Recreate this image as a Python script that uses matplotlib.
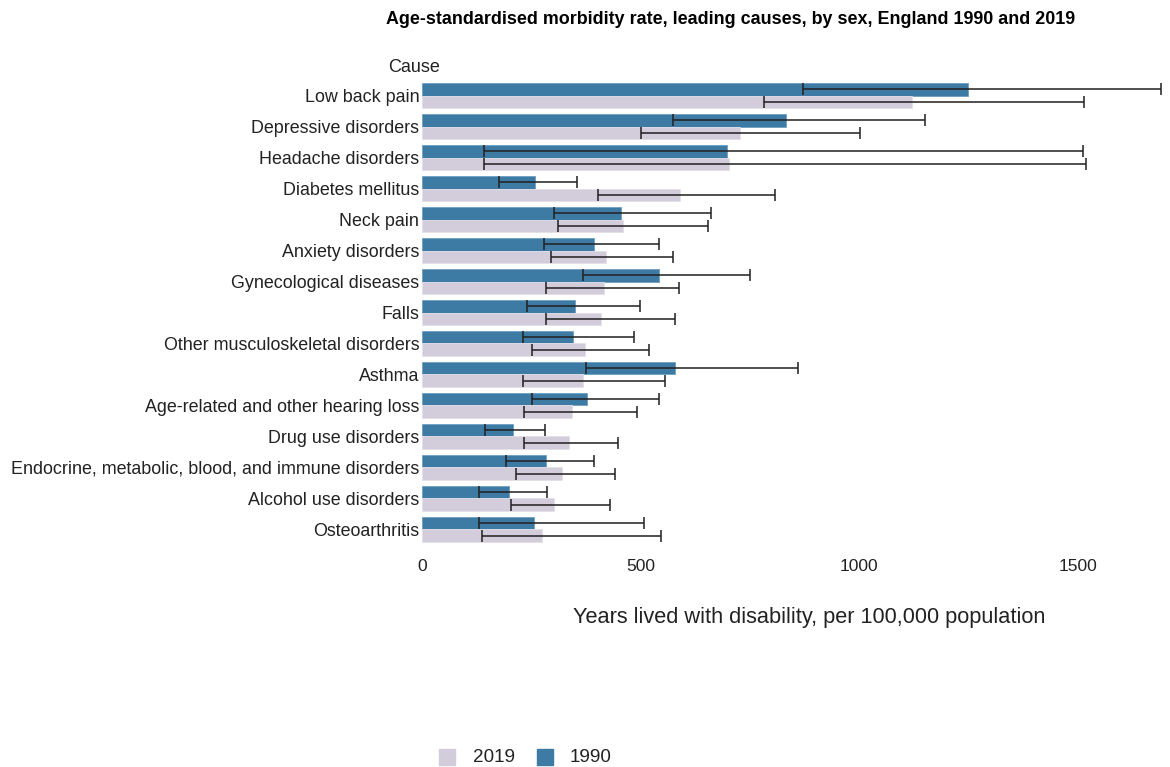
import numpy as np
import matplotlib.pyplot as plt
from matplotlib.patches import Rectangle

plt.rcParams['font.family'] = ['Liberation Sans', 'DejaVu Sans']

causes = [
    "Low back pain", "Depressive disorders", "Headache disorders", "Diabetes mellitus",
    "Neck pain", "Anxiety disorders", "Gynecological diseases", "Falls",
    "Other musculoskeletal disorders", "Asthma", "Age-related and other hearing loss",
    "Drug use disorders", "Endocrine, metabolic, blood, and immune disorders",
    "Alcohol use disorders", "Osteoarthritis",
]

# YLDs per 100,000 with lower / upper uncertainty bounds
val_1990 = [1248, 832, 698, 258, 456, 394, 543, 350, 345, 579, 377, 207, 283, 200, 256]
low_1990 = [871, 573, 141, 176, 303, 278, 369, 241, 232, 374, 252, 143, 191, 131, 130]
high_1990 = [1690, 1151, 1511, 354, 660, 541, 750, 498, 485, 860, 543, 282, 393, 285, 508]

val_2019 = [1120, 727, 702, 589, 460, 421, 417, 409, 372, 368, 344, 336, 321, 301, 274]
low_2019 = [783, 500, 141, 402, 310, 296, 283, 283, 252, 232, 233, 233, 216, 203, 137]
high_2019 = [1515, 1002, 1519, 808, 655, 575, 587, 579, 518, 555, 492, 449, 441, 431, 546]

c1990 = "#3e7ba4"
c2019 = "#d3cddb"

W, H = 1170, 767
fig = plt.figure(figsize=(W / 100, H / 100), dpi=100)
ax = fig.add_axes([422 / W, 1 - 548 / H, 739 / W, 471 / H])

y = np.arange(len(causes))
h = 0.395
ax.barh(y - h / 2, val_1990, height=h, color=c1990, edgecolor="#6e9fc0", linewidth=0.6)
ax.barh(y + h / 2, val_2019, height=h, color=c2019, edgecolor="#e4e0ea", linewidth=0.6)

v1 = np.array(val_1990)
v2 = np.array(val_2019)
ax.errorbar(v1, y - h / 2, xerr=[v1 - np.array(low_1990), np.array(high_1990) - v1],
            fmt="none", ecolor="#222222", alpha=0.8, elinewidth=1.4, capsize=4.6, capthick=1.4)
ax.errorbar(v2, y + h / 2, xerr=[v2 - np.array(low_2019), np.array(high_2019) - v2],
            fmt="none", ecolor="#222222", alpha=0.8, elinewidth=1.4, capsize=4.6, capthick=1.4)

ax.set_xlim(0, 1690)
ax.set_ylim(len(causes) - 0.4, -0.6)
ax.set_yticks(y)
ax.set_yticklabels(causes, fontsize=12.9, color="#222222")
ax.set_xticks([0, 500, 1000, 1500])
ax.set_xticklabels(["0", "500", "1000", "1500"], fontsize=12.6, color="#222222")
ax.tick_params(length=0, pad=2)
ax.tick_params(axis="x", pad=8)
for s in ax.spines.values():
    s.set_visible(False)

fig.text(731 / W, 1 - 20 / H, "Age-standardised morbidity rate, leading causes, by sex, England 1990 and 2019",
         ha="center", va="center", fontsize=12.9, fontweight="bold")
fig.text(388 / W, 1 - 68 / H, "Cause", ha="left", va="center", fontsize=13, color="#222222")
fig.text(809 / W, 1 - 617 / H, "Years lived with disability, per 100,000 population",
         ha="center", va="center", fontsize=15.7, color="#222222")

# legend along the bottom: colour squares with labels
for sx, tx, col, lab in [(439, 473, c2019, "2019"), (537, 570, c1990, "1990")]:
    fig.patches.append(Rectangle((sx / W, 1 - 765 / H), 16 / W, 16 / H,
                                 transform=fig.transFigure, color=col))
    fig.text(tx / W, 1 - 757 / H, lab, ha="left", va="center", fontsize=13.6, color="#222222")

fig.savefig("out.png", dpi=100)
